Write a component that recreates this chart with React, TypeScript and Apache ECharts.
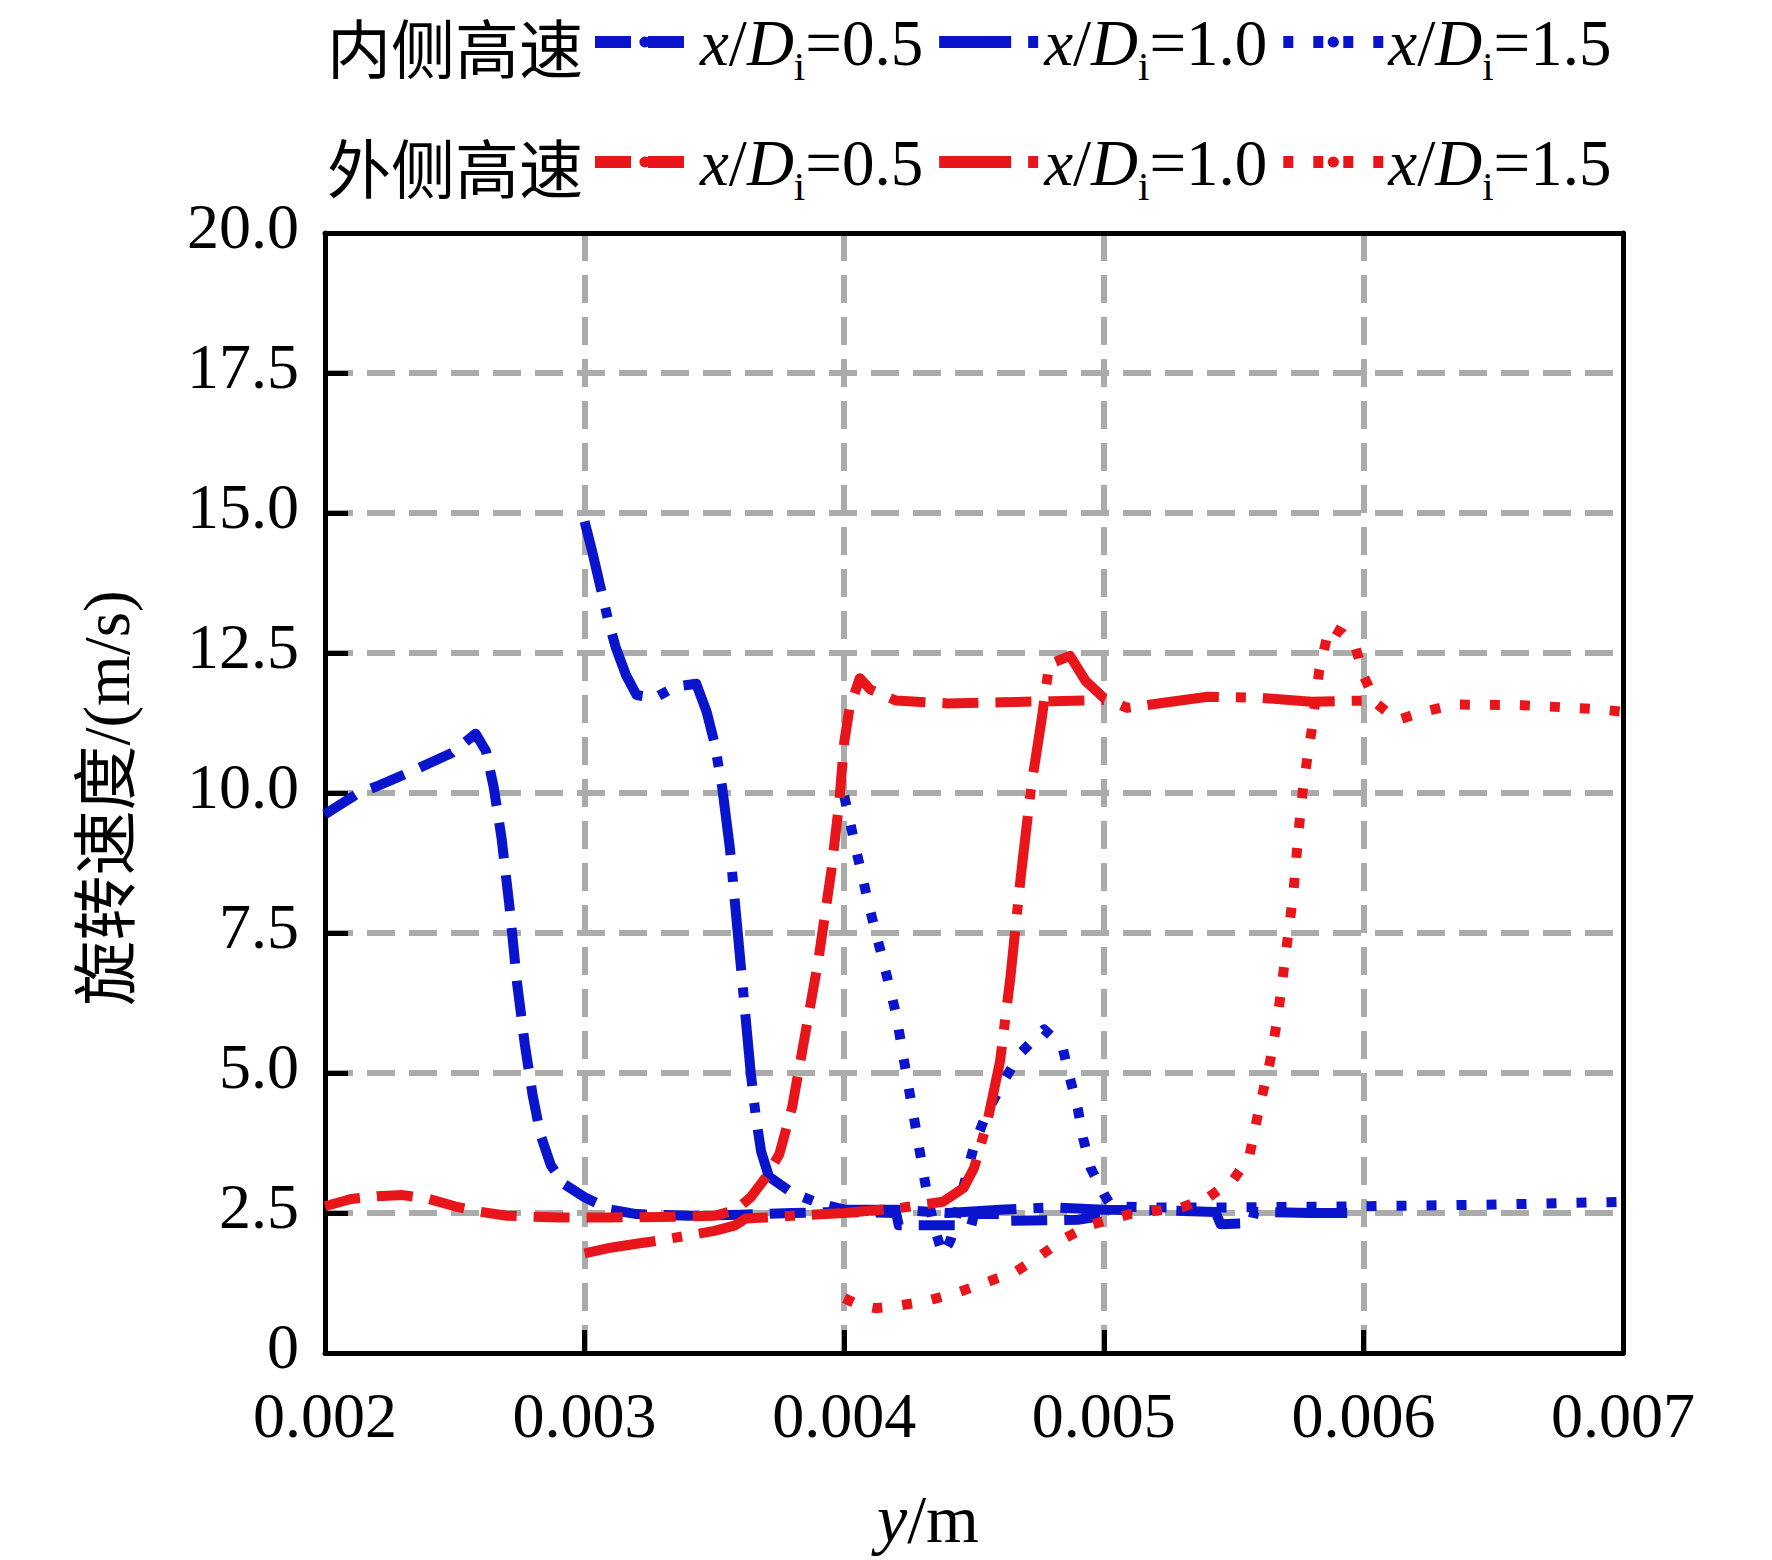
import React, { useEffect, useRef } from 'react';
import * as echarts from 'echarts';

const SERIF = "'Liberation Serif', 'Times New Roman', 'Noto Sans CJK SC', serif";
const CJK = "'Noto Sans CJK SC', sans-serif";

const groupLabels = ['内侧高速', '外侧高速'];
const positionLabels = ['0.5', '1.0', '1.5'];
const xTicks = [0.002, 0.003, 0.004, 0.005, 0.006, 0.007];
const yTicks = [0, 2.5, 5, 7.5, 10, 12.5, 15, 17.5, 20];

// 内侧高速 x/Di=0.5
const inner05: [number, number][] = [
  [0.002, 9.62], [0.00213, 10.0], [0.0022, 10.12], [0.00228, 10.28], [0.00234, 10.4],
  [0.00249, 10.72], [0.00258, 11.06], [0.00262, 10.75], [0.00265, 10.1], [0.00268, 9.2],
  [0.00271, 8.0], [0.00274, 6.6], [0.00277, 5.5], [0.0028, 4.6], [0.00283, 3.9],
  [0.00287, 3.35], [0.00292, 3.02], [0.003, 2.78], [0.0031, 2.56], [0.0032, 2.48],
  [0.0034, 2.45], [0.0036, 2.47], [0.0038, 2.5], [0.004, 2.52], [0.0042, 2.5],
  [0.00421, 2.28], [0.00449, 2.28], [0.0045, 2.48], [0.00461, 2.48], [0.00462, 2.36],
  [0.0049, 2.38], [0.005, 2.45],
];
// 内侧高速 x/Di=1.0
const inner10: [number, number][] = [
  [0.003, 14.85], [0.00303, 14.3], [0.00306, 13.7], [0.00309, 13.1], [0.00312, 12.6],
  [0.00316, 12.1], [0.0032, 11.75], [0.00327, 11.7], [0.00335, 11.9], [0.00343, 11.95],
  [0.00347, 11.45], [0.0035, 10.9], [0.00353, 10.1], [0.00356, 9.0], [0.00358, 8.0],
  [0.0036, 7.0], [0.00362, 6.0], [0.00364, 5.0], [0.00366, 4.2], [0.00368, 3.6],
  [0.00371, 3.15], [0.0038, 2.86], [0.0039, 2.68], [0.004, 2.56], [0.0042, 2.56],
  [0.0044, 2.5], [0.0046, 2.56], [0.0048, 2.6], [0.005, 2.56], [0.0052, 2.55],
  [0.00543, 2.52], [0.00545, 2.3], [0.00557, 2.32], [0.00558, 2.52], [0.0058, 2.5],
  [0.006, 2.5],
];
// 内侧高速 x/Di=1.5
const inner15: [number, number][] = [
  [0.004, 9.95], [0.00405, 8.9], [0.0041, 7.9], [0.00415, 7.0], [0.0042, 6.05],
  [0.00424, 4.96], [0.00428, 3.9], [0.00432, 2.82], [0.00435, 2.2], [0.00438, 1.75],
  [0.00441, 2.02], [0.00445, 2.8], [0.0045, 3.7], [0.00455, 4.3], [0.00462, 4.9],
  [0.00468, 5.36], [0.00477, 5.78], [0.00484, 5.48], [0.00487, 4.9], [0.0049, 4.36],
  [0.00492, 3.84], [0.00495, 3.3], [0.005, 2.84], [0.00503, 2.62], [0.0052, 2.6],
  [0.0055, 2.6], [0.006, 2.62], [0.0065, 2.65], [0.007, 2.7],
];
// 外侧高速 x/Di=0.5
const outer05: [number, number][] = [
  [0.002, 2.62], [0.0021, 2.75], [0.0022, 2.8], [0.0023, 2.82], [0.0024, 2.75],
  [0.0025, 2.62], [0.0026, 2.52], [0.0027, 2.45], [0.0029, 2.42], [0.0031, 2.42],
  [0.0033, 2.43], [0.0035, 2.45], [0.00358, 2.55], [0.00364, 2.78], [0.0037, 3.15],
  [0.00375, 3.55], [0.0038, 4.4], [0.00385, 5.7], [0.0039, 7.0], [0.00395, 8.6],
  [0.00398, 9.8], [0.004, 10.9], [0.00402, 11.5], [0.00406, 12.05], [0.0041, 11.85],
  [0.0042, 11.65], [0.0044, 11.6], [0.0046, 11.62], [0.0048, 11.64], [0.005, 11.66],
];
// 外侧高速 x/Di=1.0
const outer10: [number, number][] = [
  [0.003, 1.78], [0.0031, 1.88], [0.0032, 1.95], [0.0033, 2.02], [0.0034, 2.1],
  [0.0035, 2.18], [0.00358, 2.28], [0.00362, 2.4], [0.0037, 2.42], [0.0038, 2.45],
  [0.004, 2.5], [0.0042, 2.58], [0.00438, 2.7], [0.00446, 2.95], [0.0045, 3.3],
  [0.00455, 4.1], [0.0046, 5.2], [0.00464, 6.7], [0.00468, 8.5], [0.00472, 10.1],
  [0.00476, 11.3], [0.00479, 12.3], [0.00487, 12.45], [0.00493, 12.0], [0.005, 11.7],
  [0.00509, 11.52], [0.0054, 11.72], [0.0056, 11.7], [0.0058, 11.63], [0.006, 11.65],
];
// 外侧高速 x/Di=1.5
const outer15: [number, number][] = [
  [0.004, 0.98], [0.00406, 0.85], [0.00412, 0.8], [0.0042, 0.84], [0.00431, 0.92],
  [0.00443, 1.07], [0.00454, 1.25], [0.00466, 1.45], [0.00475, 1.72], [0.00485, 2.05],
  [0.00495, 2.29], [0.0051, 2.48], [0.0053, 2.6], [0.0054, 2.77], [0.0055, 3.1],
  [0.00556, 3.5], [0.0056, 4.4], [0.00564, 5.2], [0.00567, 6.0], [0.0057, 7.1],
  [0.00573, 8.2], [0.00575, 9.3], [0.00577, 10.2], [0.0058, 11.1], [0.00583, 12.2],
  [0.00587, 12.98], [0.00592, 12.85], [0.00597, 12.6], [0.006, 12.1], [0.00605, 11.6],
  [0.00613, 11.3], [0.00623, 11.45], [0.00635, 11.58], [0.0066, 11.57], [0.0069, 11.5],
  [0.007, 11.45],
];

const BLUE = '#0a14cc';
const RED = '#e8161b';
const GRID_GRAY = '#ababab';

const DASHED = [36, 17];
const DASH_DOT = [72, 17, 10, 17];
const DOTTED = [10, 20];

const innerData = [inner05, inner10, inner15];
const outerData = [outer05, outer10, outer15];
const dashTypes = [DASHED, DASH_DOT, DOTTED];

const G = { left: 325, top: 233, width: 1298, height: 1120 };

export default function App() {
  const ref = useRef<HTMLDivElement>(null);

  useEffect(() => {
    document.body.style.margin = '0';
    if (!ref.current) return;
    const chart = echarts.init(ref.current, undefined, { renderer: 'svg' });

    const names: string[][] = [[], []];
    const labelOf: Record<string, string> = {};
    const series: any[] = [];
    [innerData, outerData].forEach((group, gi) => {
      group.forEach((data, pi) => {
        const name = `${groupLabels[gi]} x/Di=${positionLabels[pi]}`;
        names[gi].push(name);
        labelOf[name] = positionLabels[pi];
        series.push({
          type: 'line',
          name,
          data,
          xAxisIndex: 0,
          yAxisIndex: 0,
          symbol: 'none',
          smooth: false,
          lineStyle: { color: gi === 0 ? BLUE : RED, width: 10, type: dashTypes[pi], cap: 'butt', join: 'round' },
          itemStyle: { color: gi === 0 ? BLUE : RED },
          z: 2,
        });
      });
    });

    const rich = {
      it: { fontFamily: SERIF, fontStyle: 'italic', fontSize: 65, lineHeight: 64, verticalAlign: 'top', color: '#000' },
      n: { fontFamily: SERIF, fontSize: 65, lineHeight: 64, verticalAlign: 'top', color: '#000' },
      sub: { fontFamily: SERIF, fontSize: 41, lineHeight: 40, padding: [36, 0, 0, 0], verticalAlign: 'top', color: '#000' },
    };
    const fmt = (name: string) => `{it|x}{n|/}{it|D}{sub|i}{n|=${labelOf[name]}}`;

    const legendBase = {
      orient: 'horizontal',
      left: 589,
      padding: 0,
      itemWidth: 100,
      itemHeight: 14,
      itemGap: 10,
      selectedMode: false,
      formatter: fmt,
      textStyle: { rich },
      lineStyle: { width: 12 },
    };

    const axisLineStyle = { color: '#000', width: 5 };

    const option: any = {
      animation: false,
      backgroundColor: '#fff',
      grid: { ...G, containLabel: false },
      legend: [
        { ...legendBase, top: 10, data: names[0] },
        { ...legendBase, top: 130, data: names[1] },
      ],
      xAxis: [
        {
          type: 'value', position: 'bottom', min: 0.002, max: 0.007, interval: 0.001, z: 0,
          axisLine: { show: false, onZero: false },
          axisTick: { show: false },
          axisLabel: {
            margin: 34, fontFamily: SERIF, fontSize: 64, lineHeight: 56, color: '#000',
            formatter: (v: number) => v.toFixed(3),
          },
          splitLine: { show: true, showMinLine: false, showMaxLine: false, lineStyle: { color: GRID_GRAY, width: 6, type: [28, 14] } },
        },
        {
          type: 'value', position: 'bottom', min: 0.002, max: 0.007, interval: 0.001, z: 1,
          axisLine: { show: true, onZero: false, lineStyle: axisLineStyle },
          axisTick: { show: true, inside: true, length: 23, lineStyle: { color: '#000', width: 5 } },
          axisLabel: { show: false },
          splitLine: { show: false },
        },
        {
          type: 'value', position: 'top', min: 0.002, max: 0.007, interval: 0.001, z: 1,
          axisLine: { show: true, onZero: false, lineStyle: axisLineStyle },
          axisTick: { show: false },
          axisLabel: { show: false },
          splitLine: { show: false },
        },
      ],
      yAxis: [
        {
          type: 'value', position: 'left', min: 0, max: 20, interval: 2.5, z: 0,
          axisLine: { show: false, onZero: false },
          axisTick: { show: false },
          axisLabel: {
            margin: 26, fontFamily: SERIF, fontSize: 64, lineHeight: 14, verticalAlign: 'bottom', color: '#000',
            formatter: (v: number) => (v === 0 ? '0' : v.toFixed(1)),
          },
          splitLine: { show: true, showMinLine: false, showMaxLine: false, lineStyle: { color: GRID_GRAY, width: 6, type: [28, 14] } },
        },
        {
          type: 'value', position: 'left', min: 0, max: 20, interval: 2.5, z: 1,
          axisLine: { show: true, onZero: false, lineStyle: axisLineStyle },
          axisTick: { show: true, inside: true, length: 23, lineStyle: { color: '#000', width: 5 } },
          axisLabel: { show: false },
          splitLine: { show: false },
        },
        {
          type: 'value', position: 'right', min: 0, max: 20, interval: 2.5, z: 1,
          axisLine: { show: true, onZero: false, lineStyle: axisLineStyle },
          axisTick: { show: false },
          axisLabel: { show: false },
          splitLine: { show: false },
        },
      ],
      graphic: [
        {
          type: 'text', x: 327, y: 45,
          style: { text: groupLabels[0], font: `64px ${CJK}`, fill: '#000', textAlign: 'left', textVerticalAlign: 'middle' },
        },
        {
          type: 'text', x: 327, y: 165,
          style: { text: groupLabels[1], font: `64px ${CJK}`, fill: '#000', textAlign: 'left', textVerticalAlign: 'middle' },
        },
        {
          type: 'text', x: 107, y: 798, rotation: Math.PI / 2,
          style: { text: '旋转速度/(m/s)', font: `65px ${SERIF}`, fill: '#000', textAlign: 'center', textVerticalAlign: 'middle' },
        },
        {
          type: 'text', x: 928, y: 1519,
          style: {
            text: '{it|y}{n|/m}', textAlign: 'center', textVerticalAlign: 'middle',
            rich: {
              it: { fontFamily: SERIF, fontStyle: 'italic', fontSize: 68, fill: '#000' },
              n: { fontFamily: SERIF, fontSize: 68, fill: '#000' },
            },
          },
        },
      ],
      series,
    };

    chart.setOption(option);
    return () => chart.dispose();
  }, []);

  return <div ref={ref} style={{ width: 1772, height: 1560 }} />;
}
